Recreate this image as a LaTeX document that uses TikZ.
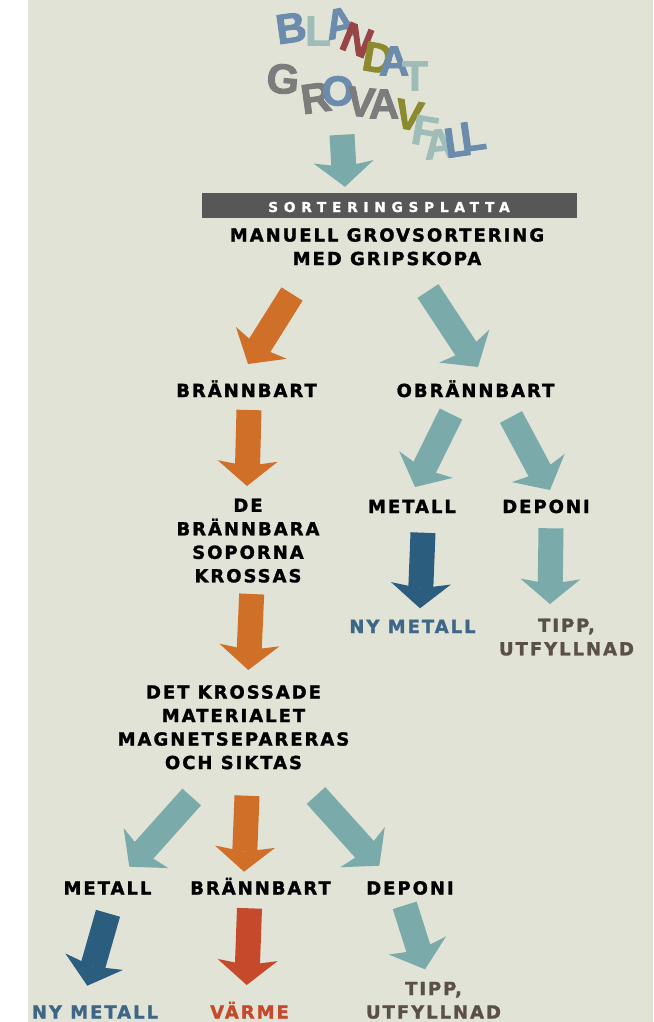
\documentclass[tikz,border=0pt]{standalone}
\usepackage{fontspec}
\setmainfont{DejaVu Sans}
\newfontfamily\etikettfont{DejaVu Sans}[LetterSpace=11, BoldFeatures={FakeBold=1.5}]
\newfontfamily\plattafont{DejaVu Sans}[LetterSpace=42, BoldFeatures={FakeBold=1.2}]
\newfontfamily\rubrikfont{Liberation Sans}[BoldFeatures={FakeBold=2}]
\usetikzlibrary{arrows.meta}

\definecolor{bakgrund}{HTML}{E0E3D6}
\definecolor{turkos}{HTML}{7AAAAA}
\definecolor{brandorange}{HTML}{D06F27}
\definecolor{morkbla}{HTML}{2B5D7F}
\definecolor{rod}{HTML}{C5492A}
\definecolor{textbla}{HTML}{3E6686}
\definecolor{brun}{HTML}{5B5049}
\definecolor{plattgra}{HTML}{575757}
\definecolor{stalbla}{HTML}{6B8CAC}
\definecolor{ljusturkos}{HTML}{9FBDB8}
\definecolor{vinrod}{HTML}{9A4545}
\definecolor{oliv}{HTML}{8C8A2E}
\definecolor{gra}{HTML}{7C7C7C}

\tikzset{
  etikett/.style={font=\etikettfont\bfseries\fontsize{18}{23.5}\selectfont, inner sep=0pt},
  rubrik/.style={font=\rubrikfont\bfseries\fontsize{42}{42}\selectfont, inner sep=0pt},
  pil/.style={line width=25pt, -{Stealth[length=25pt, width=60pt, inset=5pt, line width=0pt]}},
  turkospil/.style={pil, draw=turkos},
  orangepil/.style={pil, draw=brandorange},
  blapil/.style={pil, draw=morkbla},
  rodpil/.style={pil, draw=rod}
}

\begin{document}
\begin{tikzpicture}[x=1pt, y=-1pt]

\useasboundingbox (0,0) rectangle (653,1022);
\fill[white] (0,0) rectangle (653,1022);
\fill[bakgrund] (28,0) rectangle (653,1022);

% rubriken, bokstav for bokstav
\foreach \bokstav/\x/\y/\vinkel/\farg [count=\i] in {
    B/291/28/8/stalbla, L/318/31/0/ljusturkos, A/340/23/12/stalbla,
    N/357/40/-22/vinrod, D/378/58/-10/oliv, A/394/61/0/stalbla,
    T/415/76/0/ljusturkos,
    G/283/79/-5/gra, R/316/98/8/gra, O/338/91/0/stalbla,
    V/361/102/-6/gra, A/384/104/0/gra, V/409/115/-10/oliv,
    F/425/131/-10/ljusturkos, A/439/144/5/ljusturkos,
    L/457/142/8/stalbla, L/473/136/8/stalbla}
  \node[rubrik, text=\farg, rotate=\vinkel] (bokstav\i) at (\x,\y) {\bokstav};

% sorteringsplattan
\node[fill=plattgra, minimum width=375pt, minimum height=25pt, inner sep=0pt,
      text=white, text height=14pt, text depth=0pt,
      font=\plattafont\bfseries\fontsize{13.7}{16}\selectfont] (platta) at (389,205) {SORTERINGSPLATTA};
\node[etikett, anchor=north, align=center] (manuell) at (387,228) {MANUELL GROVSORTERING\\MED GRIPSKOPA};

% forsta delningen
\node[etikett, anchor=base] (brb1) at (246.5,397) {BRÄNNBART};
\node[etikett, anchor=base] (obrb) at (475.5,397) {OBRÄNNBART};

% vanster gren
\node[etikett, anchor=north, align=center] (de) at (248,498.5) {DE\\BRÄNNBARA\\SOPORNA\\KROSSAS};
\node[etikett, anchor=north, align=center] (det) at (233.5,685) {DET KROSSADE\\MATERIALET\\MAGNETSEPARERAS\\OCH SIKTAS};

\node[etikett, anchor=base] (metall2) at (107.5,894.5) {METALL};
\node[etikett, anchor=base] (brb2) at (260.5,894.5) {BRÄNNBART};
\node[etikett, anchor=base] (deponi2) at (410,894.5) {DEPONI};

\node[etikett, anchor=base, text=textbla] (nymetall2) at (95,1018.5) {NY METALL};
\node[etikett, anchor=base, text=rod] (varme) at (249.5,1018.5) {VÄRME};
\node[etikett, anchor=north, align=center, text=brun] (tipp2) at (433.5,981.7) {TIPP,\\UTFYLLNAD};

% hoger gren
\node[etikett, anchor=base] (metall1) at (412,513) {METALL};
\node[etikett, anchor=base] (deponi1) at (546,513) {DEPONI};
\node[etikett, anchor=base, text=textbla] (nymetall1) at (412.5,633) {NY METALL};
\node[etikett, anchor=north, align=center, text=brun] (tipp1) at (566.5,618.5) {TIPP,\\UTFYLLNAD};

% pilar
\draw[turkospil] ([shift={(-47,-57.5)}]platta.north) -- ([shift={(-44,-5.5)}]platta.north);
\draw[orangepil] ([shift={(-95,66)}]manuell.north) -- ([shift={(1.5,-33)}]brb1.base);
\draw[turkospil] ([shift={(41,63)}]manuell.north) -- ([shift={(2.5,-30)}]obrb.base);

\draw[orangepil] ([shift={(2.5,13)}]brb1.base) -- ([shift={(-1,-12.5)}]de.north);
\draw[orangepil] ([shift={(3.7,95.5)}]de.north) -- ([shift={(14.8,-15)}]det.north);

\draw[turkospil] ([shift={(-24.5,17)}]obrb.base) -- ([shift={(3,-26)}]metall1.base);
\draw[turkospil] ([shift={(35.5,20)}]obrb.base) -- ([shift={(4,-23)}]deponi1.base);
\draw[blapil] ([shift={(11,19.7)}]metall1.base) -- ([shift={(7.5,-24.7)}]nymetall1.base);
\draw[turkospil] ([shift={(5,15.3)}]deponi1.base) -- ([shift={(-16.5,-14.5)}]tipp1.north);

\draw[turkospil] ([shift={(-41.8,112)}]det.north) -- ([shift={(21.8,-27.8)}]metall2.base);
\draw[orangepil] ([shift={(13.5,110.7)}]det.north) -- ([shift={(-16.5,-22.8)}]brb2.base);
\draw[turkospil] ([shift={(82.5,110.5)}]det.north) -- ([shift={(-30.7,-28.8)}]deponi2.base);

\draw[blapil] ([shift={(0.5,18.8)}]metall2.base) -- ([shift={(-7.7,-32.8)}]nymetall2.base);
\draw[rodpil] ([shift={(-11,13.8)}]brb2.base) -- ([shift={(-2.8,-33.5)}]varme.base);
\draw[turkospil] ([shift={(-5.3,10.8)}]deponi2.base) -- ([shift={(-8.5,-12.4)}]tipp2.north);

\end{tikzpicture}
\end{document}
